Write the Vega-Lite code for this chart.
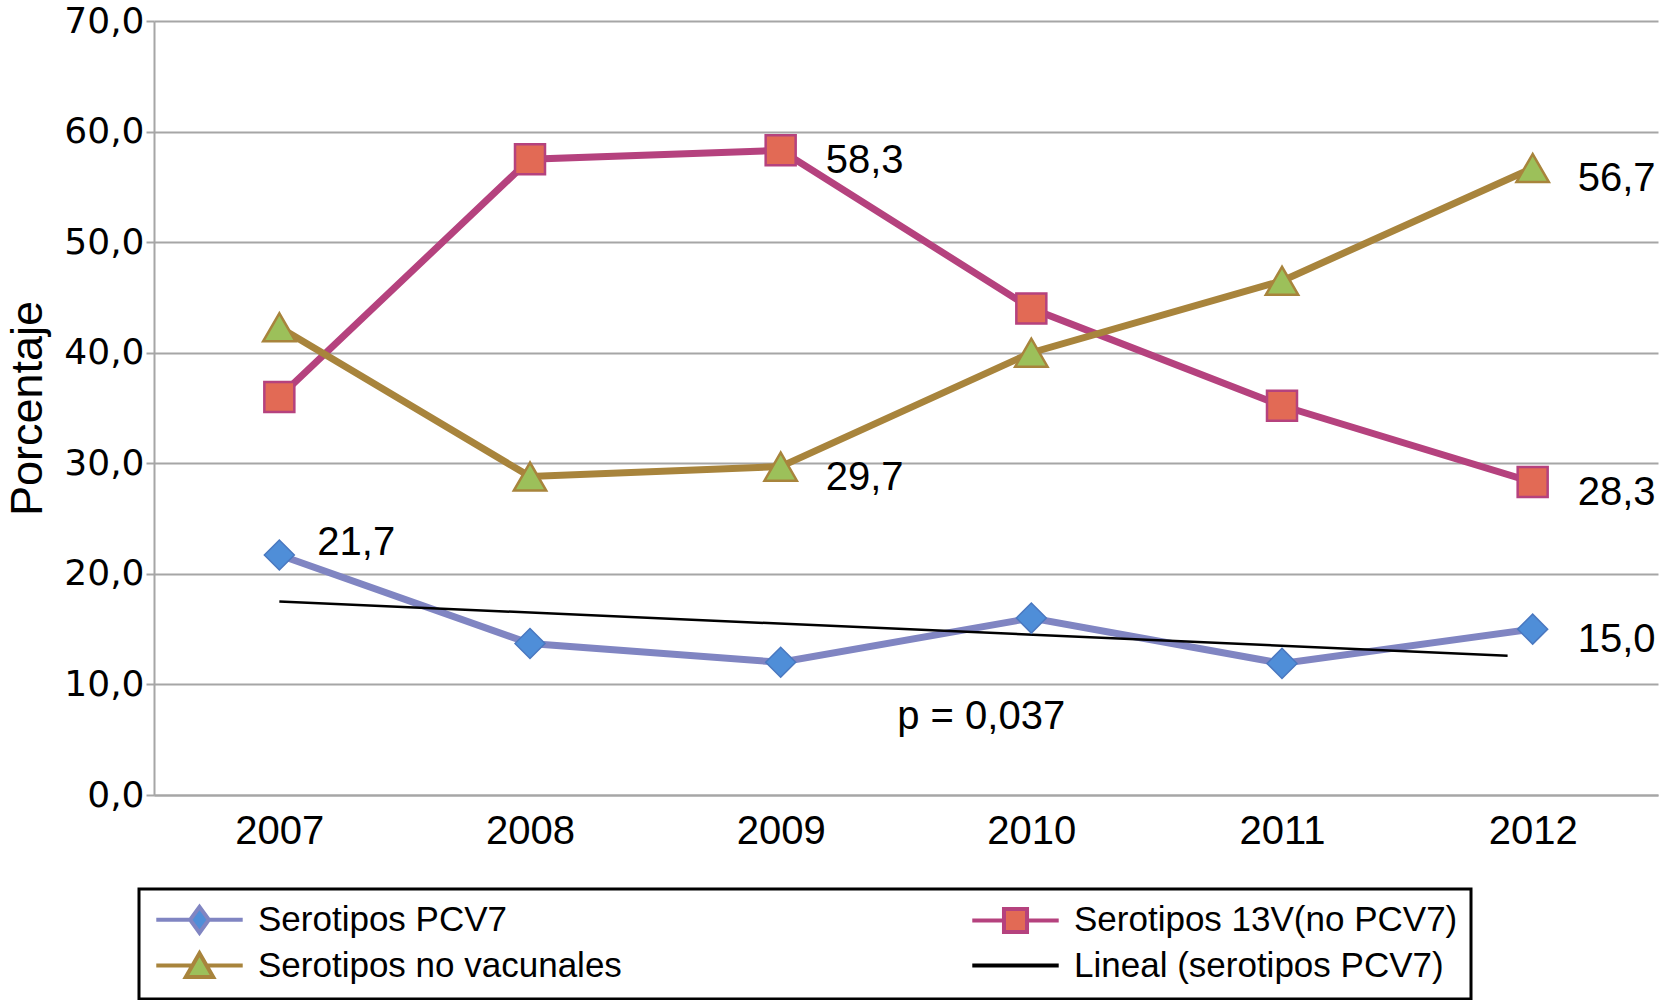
{
  "$schema": "https://vega.github.io/schema/vega-lite/v6.json",
  "width": 1504,
  "height": 774,
  "autosize": {"type": "none"},
  "padding": {"left": 154, "top": 21, "right": 4, "bottom": 205},
  "background": "white",
  "config": {"view": {"stroke": null}, "font": "Liberation Sans"},
  "datasets": {
    "series": [
      {"year": 2007, "serie": "Serotipos PCV7", "value": 21.7},
      {"year": 2008, "serie": "Serotipos PCV7", "value": 13.7},
      {"year": 2009, "serie": "Serotipos PCV7", "value": 12.0},
      {"year": 2010, "serie": "Serotipos PCV7", "value": 16.0},
      {"year": 2011, "serie": "Serotipos PCV7", "value": 11.9},
      {"year": 2012, "serie": "Serotipos PCV7", "value": 15.0},
      {"year": 2007, "serie": "Serotipos 13V(no PCV7)", "value": 36.0},
      {"year": 2008, "serie": "Serotipos 13V(no PCV7)", "value": 57.5},
      {"year": 2009, "serie": "Serotipos 13V(no PCV7)", "value": 58.3},
      {"year": 2010, "serie": "Serotipos 13V(no PCV7)", "value": 44.0},
      {"year": 2011, "serie": "Serotipos 13V(no PCV7)", "value": 35.2},
      {"year": 2012, "serie": "Serotipos 13V(no PCV7)", "value": 28.3},
      {"year": 2007, "serie": "Serotipos no vacunales", "value": 42.3},
      {"year": 2008, "serie": "Serotipos no vacunales", "value": 28.8},
      {"year": 2009, "serie": "Serotipos no vacunales", "value": 29.7},
      {"year": 2010, "serie": "Serotipos no vacunales", "value": 40.0},
      {"year": 2011, "serie": "Serotipos no vacunales", "value": 46.5},
      {"year": 2012, "serie": "Serotipos no vacunales", "value": 56.7}
    ],
    "trend": [
      {"year": 2007, "value": 17.5, "serie": "Lineal (serotipos PCV7)"},
      {"year": 2011.9, "value": 12.6, "serie": "Lineal (serotipos PCV7)"}
    ],
    "labels": [
      {"year": 2007, "value": 21.7, "label": "21,7"},
      {"year": 2009, "value": 58.3, "label": "58,3"},
      {"year": 2009, "value": 29.7, "label": "29,7"},
      {"year": 2012, "value": 56.7, "label": "56,7"},
      {"year": 2012, "value": 28.3, "label": "28,3"},
      {"year": 2012, "value": 15.0, "label": "15,0"}
    ],
    "note": [{"year": 2009.8, "value": 7.07, "label": "p = 0,037"}],
    "leg": [
      {"serie": "Serotipos PCV7"},
      {"serie": "Serotipos no vacunales"},
      {"serie": "Serotipos 13V(no PCV7)"},
      {"serie": "Lineal (serotipos PCV7)"}
    ]
  },
  "encoding": {
    "x": {
      "field": "year",
      "type": "quantitative",
      "scale": {"domain": [2006.5, 2012.5], "nice": false, "zero": false},
      "axis": {
        "values": [2007, 2008, 2009, 2010, 2011, 2012],
        "format": "d",
        "title": null,
        "grid": false,
        "ticks": false,
        "labelFont": "Liberation Sans",
        "labelFontSize": 40,
        "labelColor": "black",
        "labelPadding": 16,
        "domainColor": "#A6A6A6",
        "domainWidth": 2
      }
    },
    "y": {
      "field": "value",
      "type": "quantitative",
      "scale": {"domain": [0, 70], "nice": false},
      "axis": {
        "values": [0, 10, 20, 30, 40, 50, 60, 70],
        "labelExpr": "replace(format(datum.value, '.1f'), '.', ',')",
        "title": "Porcentaje",
        "titleFont": "Liberation Sans",
        "titleFontSize": 45,
        "titleFontWeight": "normal",
        "titleColor": "black",
        "titlePadding": 13,
        "labelFont": "DejaVu Sans",
        "labelFontSize": 36,
        "labelColor": "black",
        "labelPadding": 2,
        "tickSize": 8,
        "tickColor": "#A6A6A6",
        "tickWidth": 2,
        "domainColor": "#A6A6A6",
        "domainWidth": 2,
        "gridColor": "#A6A6A6",
        "gridWidth": 2
      }
    }
  },
  "layer": [
    {
      "data": {"name": "series"},
      "mark": {"type": "line", "strokeWidth": 7},
      "encoding": {
        "color": {
          "field": "serie",
          "type": "nominal",
          "scale": {
            "domain": ["Serotipos PCV7", "Serotipos 13V(no PCV7)", "Serotipos no vacunales"],
            "range": ["#8085C2", "#B5427E", "#A8843C"]
          },
          "legend": null
        }
      }
    },
    {
      "data": {"name": "trend"},
      "mark": {"type": "line", "color": "black", "strokeWidth": 2.5},
      "encoding": {}
    },
    {
      "data": {"name": "series"},
      "transform": [{"filter": "datum.serie === 'Serotipos PCV7'"}],
      "mark": {"type": "point", "shape": "diamond", "size": 900, "filled": true, "fill": "#4F8ED8", "stroke": "#4A78C0", "strokeWidth": 1.5, "opacity": 1}
    },
    {
      "data": {"name": "series"},
      "transform": [{"filter": "datum.serie === 'Serotipos 13V(no PCV7)'"}],
      "mark": {"type": "point", "shape": "square", "size": 900, "filled": true, "fill": "#E26A55", "stroke": "#B5427E", "strokeWidth": 2.5, "opacity": 1}
    },
    {
      "data": {"name": "series"},
      "transform": [{"filter": "datum.serie === 'Serotipos no vacunales'"}],
      "mark": {"type": "point", "shape": "triangle-up", "size": 1050, "filled": true, "fill": "#9CC05A", "stroke": "#A8843C", "strokeWidth": 2.5, "opacity": 1}
    },
    {
      "data": {"name": "labels"},
      "transform": [{"filter": "datum.year !== 2007"}],
      "mark": {"type": "text", "align": "left", "baseline": "middle", "dx": 45, "dy": 11, "fontSize": 40, "font": "Liberation Sans", "color": "black"},
      "encoding": {"text": {"field": "label", "type": "nominal"}}
    },
    {
      "data": {"name": "labels"},
      "transform": [{"filter": "datum.year === 2007"}],
      "mark": {"type": "text", "align": "left", "baseline": "middle", "dx": 38, "dy": -12, "fontSize": 40, "font": "Liberation Sans", "color": "black"},
      "encoding": {"text": {"field": "label", "type": "nominal"}}
    },
    {
      "data": {"name": "note"},
      "mark": {"type": "text", "align": "center", "baseline": "middle", "fontSize": 40, "font": "Liberation Sans", "color": "black"},
      "encoding": {"text": {"field": "label", "type": "nominal"}}
    },
    {
      "data": {"name": "leg"},
      "mark": {"type": "point", "filled": true, "strokeWidth": 4},
      "encoding": {
        "shape": {
          "field": "serie",
          "type": "nominal",
          "scale": {
            "domain": ["Serotipos PCV7", "Serotipos no vacunales", "Serotipos 13V(no PCV7)", "Lineal (serotipos PCV7)"],
            "range": [
              "M-3,0H-0.65M0.65,0H3M0,-0.9L0.65,0L0,0.9L-0.65,0Z",
              "M-3,0H-0.49M0.49,0H3M0,-0.85L0.95,0.8H-0.95Z",
              "M-3,0H-0.8M0.8,0H3M-0.8,-0.8H0.8V0.8H-0.8Z",
              "M-3,0H3"
            ]
          },
          "legend": {
            "title": null, "orient": "none", "legendX": -15, "legendY": 868, "columns": 2,
            "strokeColor": "black", "padding": 13, "fillColor": "white",
            "symbolSize": 830, "symbolStrokeWidth": 4, "symbolOffset": 30, "labelOffset": 41,
            "labelFont": "Liberation Sans", "labelFontSize": 35, "labelColor": "black", "labelLimit": 1000,
            "columnPadding": 342, "rowPadding": 4, "symbolOpacity": 1,
            "encode": {"legend": {"update": {"strokeWidth": {"value": 3}}}}
          }
        },
        "fill": {
          "field": "serie",
          "type": "nominal",
          "scale": {
            "domain": ["Serotipos PCV7", "Serotipos no vacunales", "Serotipos 13V(no PCV7)", "Lineal (serotipos PCV7)"],
            "range": ["#4F8ED8", "#9CC05A", "#E26A55", "transparent"]
          },
          "legend": {
            "title": null, "orient": "none", "legendX": -15, "legendY": 868, "columns": 2,
            "strokeColor": "black", "padding": 13, "fillColor": "white",
            "symbolSize": 830, "symbolStrokeWidth": 4, "symbolOffset": 30, "labelOffset": 41,
            "labelFont": "Liberation Sans", "labelFontSize": 35, "labelColor": "black", "labelLimit": 1000,
            "columnPadding": 342, "rowPadding": 4, "symbolOpacity": 1,
            "encode": {"legend": {"update": {"strokeWidth": {"value": 3}}}}
          }
        },
        "stroke": {
          "field": "serie",
          "type": "nominal",
          "scale": {
            "domain": ["Serotipos PCV7", "Serotipos no vacunales", "Serotipos 13V(no PCV7)", "Lineal (serotipos PCV7)"],
            "range": ["#8085C2", "#A8843C", "#B5427E", "#000000"]
          },
          "legend": {
            "title": null, "orient": "none", "legendX": -15, "legendY": 868, "columns": 2,
            "strokeColor": "black", "padding": 13, "fillColor": "white",
            "symbolSize": 830, "symbolStrokeWidth": 4, "symbolOffset": 30, "labelOffset": 41,
            "labelFont": "Liberation Sans", "labelFontSize": 35, "labelColor": "black", "labelLimit": 1000,
            "columnPadding": 342, "rowPadding": 4, "symbolOpacity": 1,
            "encode": {"legend": {"update": {"strokeWidth": {"value": 3}}}}
          }
        }
      }
    }
  ]
}
